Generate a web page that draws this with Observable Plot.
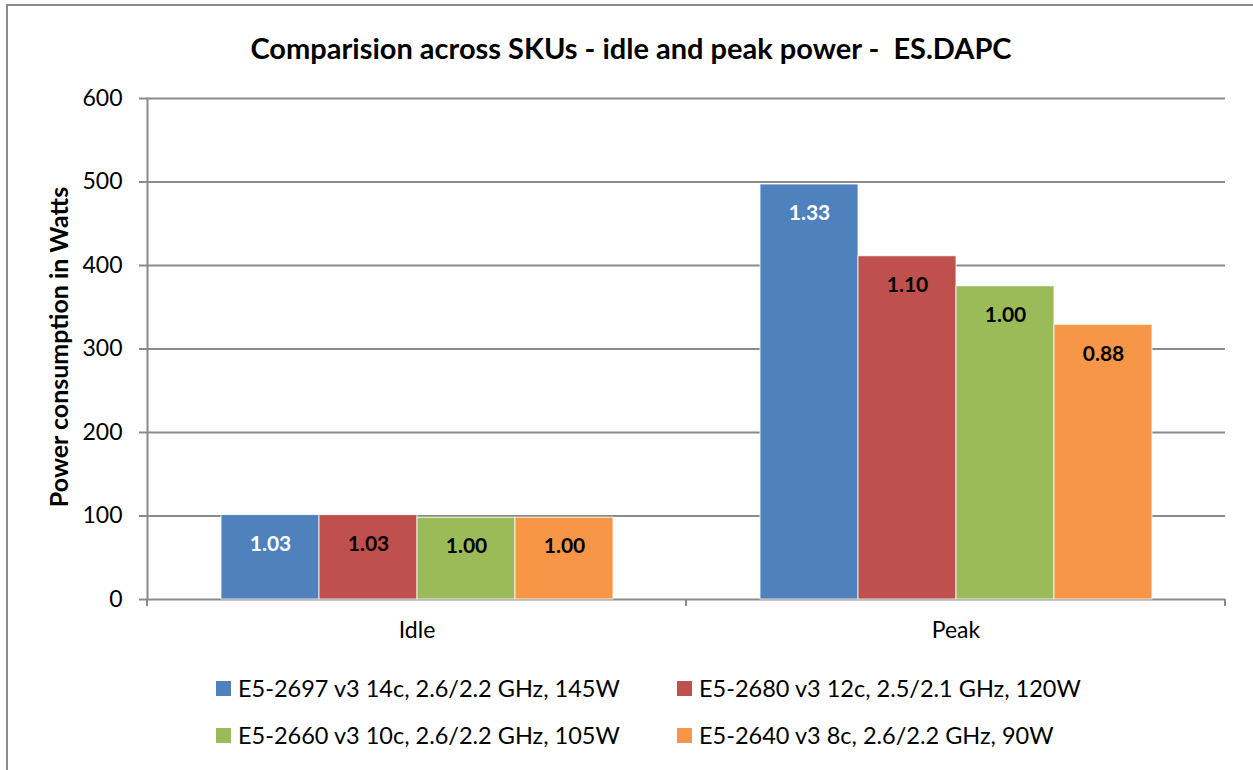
<!DOCTYPE html>
<html><head><meta charset="utf-8">
<script src="https://cdn.jsdelivr.net/npm/d3@7"></script>
<script src="https://cdn.jsdelivr.net/npm/@observablehq/plot@0.6"></script>
<style>
html,body{margin:0;padding:0;background:#fff;overflow:hidden}
#wrap{position:relative;width:1253px;height:770px;overflow:hidden;font-family:Lato,"Open Sans",sans-serif;color:#000}
#frame{position:absolute;left:6px;top:4px;width:1300px;height:800px;border:2px solid #8a8a8a;box-sizing:border-box}
#title{position:absolute;top:47px;left:0;width:1262px;text-align:center;font-weight:bold;font-size:29px;white-space:pre;transform:translateY(-50%);line-height:1}
#ylabel{position:absolute;left:58px;top:347px;transform:translate(-50%,-50%) rotate(-90deg);font-weight:bold;font-size:25px;white-space:nowrap;line-height:1}
#chart{position:absolute;left:0;top:0}
.leg{position:absolute;font-size:23.5px;white-space:nowrap;display:flex;align-items:center}
.sw{width:15px;height:15px;margin-right:7px}
</style></head>
<body><div id="wrap"><div id="frame"></div><div id="chart"></div>
<div id="title">Comparision across SKUs - idle and peak power -  ES.DAPC</div>
<div id="ylabel">Power consumption in Watts</div>
<div id="legend"></div></div>
<script>
const categories = ["Idle", "Peak"];
const series = [
  "E5-2697 v3 14c, 2.6/2.2 GHz, 145W",
  "E5-2680 v3 12c, 2.5/2.1 GHz, 120W",
  "E5-2660 v3 10c, 2.6/2.2 GHz, 105W",
  "E5-2640 v3 8c, 2.6/2.2 GHz, 90W"
];
const colors = ["#4F81BD", "#C0504D", "#9BBB59", "#F79646"];
const idleWatts = [101, 101, 98, 98];
const peakWatts = [497, 411, 375, 329];
const idleRatio = ["1.03", "1.03", "1.00", "1.00"];
const peakRatio = ["1.33", "1.10", "1.00", "0.88"];
const labelColors = ["#ffffff", "#000000", "#000000", "#000000"];
const yTicks = [0, 100, 200, 300, 400, 500, 600];

const data = [];
series.forEach((s, i) => {
  data.push({cat: "Idle", series: s, value: idleWatts[i], ratio: idleRatio[i], lc: labelColors[i]});
  data.push({cat: "Peak", series: s, value: peakWatts[i], ratio: peakRatio[i], lc: labelColors[i]});
});

const gray = "#8a8a8a";
function edgeTicks(index, scales, values, dims) {
  const g = d3.create("svg:g");
  const yb = dims.height - dims.marginBottom;
  [dims.marginLeft, dims.width - dims.marginRight].forEach(x => {
    g.append("line").attr("x1", x).attr("x2", x).attr("y1", yb).attr("y2", yb + 7)
      .attr("stroke", gray).attr("stroke-width", 2);
  });
  return g.node();
}

const chart = Plot.plot({
  width: 1253, height: 650,
  marginTop: 98, marginLeft: 146, marginRight: 28, marginBottom: 51,
  style: {fontFamily: "Lato, 'Open Sans', sans-serif", fontSize: "23px", color: "#000", background: "transparent", overflow: "visible"},
  fx: {domain: categories, padding: 0, label: null},
  x: {domain: series, paddingInner: 0, paddingOuter: 0.75, axis: null},
  y: {domain: [0, 600], label: null},
  color: {domain: series, range: colors},
  marks: [
    Plot.ruleY(yTicks, {stroke: gray, strokeWidth: 2}),
    Plot.barY(data, {fx: "cat", x: "series", y: "value", fill: "series", stroke: "#ffffff", strokeWidth: 0.8}),
    Plot.text(data, {fx: "cat", x: "series", y: "value", text: "ratio", fill: {value: "lc", scale: null}, dy: 29, fontWeight: "bold", fontSize: 21}),
    Plot.frame({anchor: "left", facetAnchor: "left", stroke: gray, strokeWidth: 2}),
    Plot.axisY({ticks: yTicks, tickSize: 8, tickPadding: 17, stroke: gray, strokeWidth: 2, fontSize: 23, label: null, tickFormat: d => String(d)}),
    Plot.axisFx({anchor: "bottom", tickSize: 0, tickPadding: 22, label: null, fontSize: 23}),
    edgeTicks
  ]
});
document.getElementById("chart").appendChild(chart);

const legPos = [[216, 688], [677, 688], [216, 735], [677, 735]];
const legend = d3.select("#legend");
series.forEach((s, i) => {
  const d = legend.append("div").attr("class", "leg")
    .style("left", legPos[i][0] + "px").style("top", (legPos[i][1] - 15) + "px").style("height", "30px");
  d.append("div").attr("class", "sw").style("background", colors[i]);
  d.append("span").text(s);
});
</script></body></html>
